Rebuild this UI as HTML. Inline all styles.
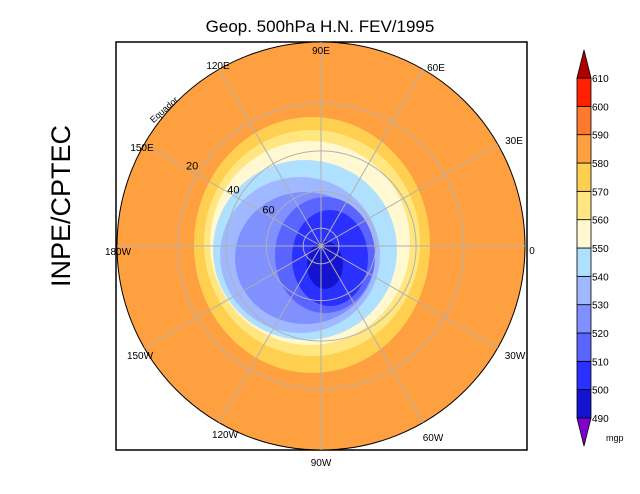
<!DOCTYPE html>
<html><head><meta charset="utf-8"><style>
body{margin:0;background:#fff}
svg{display:block;font-family:"Liberation Sans",sans-serif}
</style></head><body>
<svg width="640" height="494" viewBox="0 0 640 494">
<text x="320" y="32" font-size="17" text-anchor="middle">Geop. 500hPa H.N. FEV/1995</text>
<text transform="translate(70,206) rotate(-90)" font-size="27" text-anchor="middle">INPE/CPTEC</text>
<rect x="116" y="42" width="411" height="408" fill="none" stroke="#000" stroke-width="1.5"/>
<g id="map"></g>
<g id="cbar"></g>
</svg>
<script>
const levels=[490,500,510,520,530,540,550,560,570,580,590,600,610];
const colors=["#8000d0","#1414d0","#2a30ff","#5a64ff","#8090ff","#a0b8ff","#b0e0ff","#fff8d0","#ffe680","#ffd050","#ffa040","#ff7830","#ff2000","#b00000"];
const blobLevels=[580,570,560,550,540,530,520,510,500];
const blobCx=[312,312,310,305,300,305,325,330,325];
const blobCy=[245,243,243,250,255,258,255,258,265];
const blobRx=[118,108,100,92,80,70,50,38,18];
const blobRy=[128,113,102,90,78,66,58,48,24];
const latitudes=[20,40,60,80];
const meridians=[0,30,60,90,120,150,180,210,240,270,300,330];
const merLabels=["0","30E","60E","90E","120E","150E","180W","150W","120W","90W","60W","30W"];
const labelX=[532,514,436,321,218,142,118,140,225,321,433,515];
const labelY=[250,140,67,50,65,147,251,355,434,462,437,355];
const NS="http://www.w3.org/2000/svg";
const CX=321,CY=246,R=204;
function rad(lat){return R*Math.tan((90-lat)/2*Math.PI/180);}
function mk(t,a,p){const e=document.createElementNS(NS,t);for(const k in a)e.setAttribute(k,a[k]);p.appendChild(e);return e;}
const map=document.getElementById('map');
const disc=mk('circle',{cx:CX,cy:CY,r:R,fill:colors[10],stroke:"#000","stroke-width":1},map);


function colorFor(l){return colors[levels.indexOf(l)];}
blobLevels.forEach((l,i)=>{
 const e=mk('ellipse',{cx:blobCx[i],cy:blobCy[i],rx:blobRx[i],ry:blobRy[i],fill:colorFor(l)},map);
 
 
});
latitudes.forEach(la=>{
 const c=mk('circle',{cx:CX,cy:CY,r:rad(la),fill:"none",stroke:"#b0b0b0","stroke-width":1},map);
 
 
});
meridians.forEach((m,i)=>{
 const a=m*Math.PI/180;
 const ln=mk('line',{x1:CX,y1:CY,x2:CX+R*Math.cos(a),y2:CY-R*Math.sin(a),stroke:"#b0b0b0","stroke-width":1},map);
 
 
 const t=mk('text',{x:labelX[i],y:labelY[i]+4,"font-size":10,"text-anchor":"middle"},map);
 t.textContent=merLabels[i];
 
 
});
[20,40,60].forEach(la=>{
 const a=150*Math.PI/180,r=rad(la)+6;
 const t=mk('text',{x:CX+r*Math.cos(a),y:CY-r*Math.sin(a)-2,"font-size":11,"text-anchor":"middle"},map);
 t.textContent=la;
 
 
});
const eq=mk('text',{transform:"translate(166,112) rotate(-42)","font-size":9,"text-anchor":"middle"},map);
eq.textContent="Equador";


const cb=document.getElementById('cbar');
const X0=577,W=14,Ytop=78,Ybot=418,H=(Ybot-Ytop)/(levels.length-1);
function yOf(i){return Ybot-i*H;}
for(let i=0;i<levels.length-1;i++){
 const r=mk('rect',{x:X0,y:yOf(i+1),width:W,height:H,fill:colors[i+1],stroke:"#000","stroke-width":0.8},cb);
 
 
}
const tt=mk('polygon',{points:`${X0},${Ytop} ${X0+W},${Ytop} ${X0+W/2},50`,fill:colors[13],stroke:"#000","stroke-width":0.8},cb);


const tb=mk('polygon',{points:`${X0},${Ybot} ${X0+W},${Ybot} ${X0+W/2},446`,fill:colors[0],stroke:"#000","stroke-width":0.8},cb);


levels.forEach((l,i)=>{
 const t=mk('text',{x:592,y:yOf(i)+4,"font-size":10},cb);
 t.textContent=l;
 
 
});
const u=mk('text',{x:606,y:441,"font-size":9},cb);
u.textContent="mgp";


</script>
</body></html>
